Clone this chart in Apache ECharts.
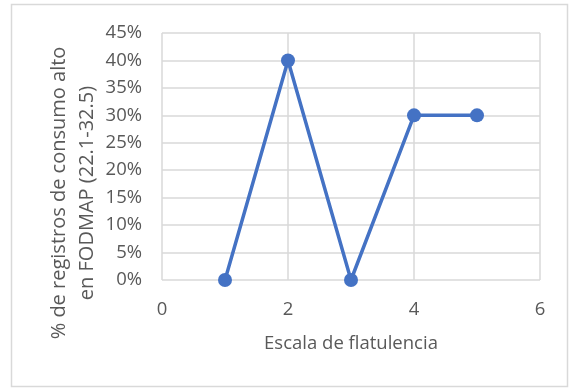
<!DOCTYPE html>
<html>
<head>
<meta charset="utf-8">
<script src="https://cdn.jsdelivr.net/npm/echarts@6/dist/echarts.min.js"></script>
<style>
  html, body { margin: 0; padding: 0; background: #fff; }
  #main { width: 569px; height: 388px; }
</style>
</head>
<body>
<div id="main"></div>
<script>
// escala de flatulencia vs % de registros
const xValues = [1, 2, 3, 4, 5];
const yValues = [0, 0.40, 0, 0.30, 0.30];
const xTitle = 'Escala de flatulencia';
const yTitle = '% de registros de consumo alto\nen FODMAP (22.1-32.5)';

const FONT = '"Open Sans", sans-serif';
const TEXT = '#595959';
const GRID = '#D9D9D9';

let myChart = echarts.init(document.getElementById('main'));
myChart.setOption({
  animation: false,
  grid: { left: 162, right: 29, top: 33, bottom: 108 },
  graphic: [
    {
      type: 'rect',
      shape: { x: 11.5, y: 4.5, width: 556, height: 382 },
      style: { fill: 'none', stroke: GRID, lineWidth: 1.5 }
    },
    {
      type: 'text',
      x: 73, y: 193,
      rotation: Math.PI / 2,
      style: {
        text: yTitle,
        fill: TEXT,
        font: '20px ' + FONT,
        lineHeight: 28,
        align: 'center',
        verticalAlign: 'middle'
      }
    }
  ],
  xAxis: {
    type: 'value',
    min: 0, max: 6, interval: 2,
    name: xTitle,
    nameLocation: 'middle',
    nameGap: 54,
    nameTextStyle: { color: TEXT, fontSize: 18.5, fontFamily: FONT },
    axisLine: { show: false },
    axisTick: { show: false },
    axisLabel: { color: TEXT, fontSize: 18.5, fontFamily: FONT, margin: 20 },
    splitLine: { show: true, lineStyle: { color: GRID, width: 1.5 } }
  },
  yAxis: {
    type: 'value',
    min: 0, max: 0.45, interval: 0.05,
    axisLine: { show: false },
    axisTick: { show: false },
    axisLabel: {
      color: TEXT, fontSize: 18.5, fontFamily: FONT, margin: 20,
      formatter: function (value) {
        return Math.round(value * 100) + '%';
      }
    },
    splitLine: { show: true, lineStyle: { color: GRID, width: 1.5 } }
  },
  series: [{
    type: 'line',
    data: xValues.map((x, i) => [x, yValues[i]]),
    symbol: 'circle',
    symbolSize: 14,
    lineStyle: { color: '#4472C4', width: 3.5 },
    itemStyle: { color: '#4472C4' }
  }]
});
</script>
</body>
</html>
